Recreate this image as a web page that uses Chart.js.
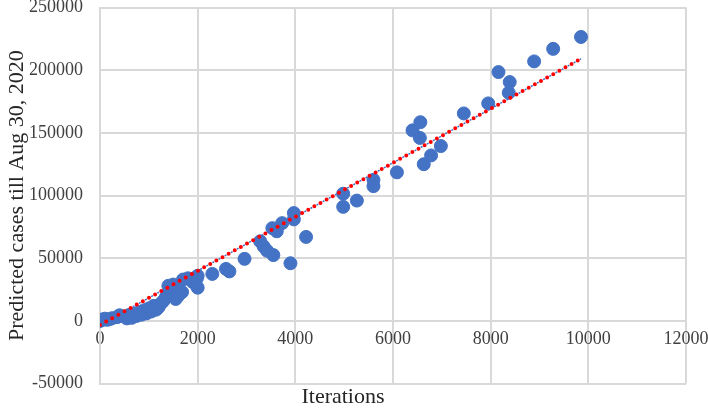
<!DOCTYPE html>
<html>
<head>
<meta charset="utf-8">
<script src="https://cdn.jsdelivr.net/npm/chart.js@4/dist/chart.umd.min.js"></script>
<style>
  html, body { margin: 0; padding: 0; background: #fff; }
  #wrap { width: 708px; height: 410px; }
</style>
</head>
<body>
<div id="wrap"><canvas id="scatterChart"></canvas></div>
<script>
// iterations vs predicted cases
const iterations = [0, 30, 60, 100, 150, 200, 250, 350, 400, 500, 550, 600, 650, 700, 750,
    800, 850, 900, 950, 1000, 1050, 1100, 1150, 1200, 1250, 1300, 1350, 1400, 1400, 1450,
    1500, 1550, 1600, 1680, 1700, 1800, 1900, 1980, 2000, 2000, 2300, 2580, 2650, 2960,
    3280, 3350, 3420, 3550, 3530, 3620, 3730, 3900, 3970, 3970, 4220, 4980, 4980, 5260,
    5600, 5600, 6080, 6400, 6560, 6550, 6630, 6780, 6980, 7450, 7950, 8160, 8390, 8370,
    8890, 9280, 9850];
const predictedCases = [0, 500, 1200, 1800, 900, 1500, 2200, 3000, 4500, 3500, 2000, 4800,
    2500, 5500, 4000, 7000, 5000, 8500, 6000, 10000, 7500, 12000, 9000, 11000, 14000, 16000,
    19000, 22000, 28000, 25000, 29000, 17500, 20000, 23000, 33000, 34000, 31000, 33500, 26500,
    36000, 37500, 41500, 39500, 49500, 63500, 59500, 56000, 52500, 74000, 71500, 78000, 46000,
    81000, 86000, 67000, 101500, 91000, 96000, 112500, 107500, 118500, 152000, 158500, 146000,
    125000, 132000, 139500, 165500, 173500, 198500, 190500, 182000, 207000, 217000, 226500];

// linear trendline end points
const trendX = [0, 9850];
const trendY = [-3200, 209100];

const yTicks = [-50000, 0, 50000, 100000, 150000, 200000, 250000];
const xTicks = [0, 2000, 4000, 6000, 8000, 10000, 12000];

const points = iterations.map((x, i) => ({ x: x, y: predictedCases[i] }));
const trend = trendX.map((x, i) => ({ x: x, y: trendY[i] }));

const serif = 'Liberation Serif, Times New Roman, serif';
const gridColor = '#d9d9d9';

new Chart(document.getElementById('scatterChart'), {
    type: 'scatter',
    data: {
        datasets: [{
            label: 'Trend',
            data: trend,
            showLine: true,
            borderColor: '#ff0000',
            borderWidth: 4,
            borderDash: [0, 7],
            borderCapStyle: 'round',
            pointRadius: 0,
            order: 0
        }, {
            label: 'Trend (under)',
            data: trend,
            showLine: true,
            borderColor: '#4472c4',
            borderWidth: 1.5,
            borderDash: [2, 5],
            borderDashOffset: -2.5,
            pointRadius: 0,
            order: 1
        }, {
            label: 'Predicted cases',
            data: points,
            backgroundColor: '#4472c4',
            borderColor: '#4472c4',
            pointRadius: 6.5,
            order: 2
        }]
    },
    options: {
        responsive: true,
        maintainAspectRatio: false,
        animation: false,
        layout: { padding: { top: 6, right: 22, left: 0, bottom: 0 } },
        plugins: {
            legend: { display: false },
            tooltip: { enabled: false },
            title: {
                display: true,
                position: 'bottom',
                text: 'Iterations',
                color: '#262626',
                font: { family: serif, size: 22, weight: 'normal' },
                padding: { top: 0, bottom: 0 }
            }
        },
        scales: {
            x: {
                type: 'linear',
                position: { y: 0 },
                min: 0,
                max: 12000,
                afterBuildTicks: axis => { axis.ticks = xTicks.map(v => ({ value: v })); },
                // axis sits on y = 0, so it should take no room in the layout
                afterFit: axis => { axis.height = 0; axis.paddingLeft = 0; axis.paddingRight = 0; },
                grid: { color: gridColor, lineWidth: 2, drawTicks: false },
                border: { color: gridColor, width: 2 },
                ticks: {
                    padding: 8,
                    color: '#404040',
                    font: { family: serif, size: 18 },
                    maxRotation: 0,
                    callback: v => String(v)
                }
            },
            y: {
                type: 'linear',
                position: 'left',
                min: -50000,
                max: 250000,
                afterBuildTicks: axis => { axis.ticks = yTicks.map(v => ({ value: v })); },
                afterFit: axis => { axis.width = 100; axis.paddingTop = 0; axis.paddingBottom = 0; },
                grid: { color: gridColor, lineWidth: 2, drawTicks: false },
                border: { color: gridColor, width: 2 },
                ticks: {
                    padding: 17,
                    color: '#404040',
                    font: { family: serif, size: 18 },
                    callback: v => String(v)
                },
                title: {
                    display: true,
                    text: 'Predicted cases till Aug 30, 2020',
                    color: '#262626',
                    font: { family: serif, size: 22, weight: 'normal' },
                    padding: { top: 4, bottom: 0 }
                }
            }
        }
    }
});
</script>
</body>
</html>
